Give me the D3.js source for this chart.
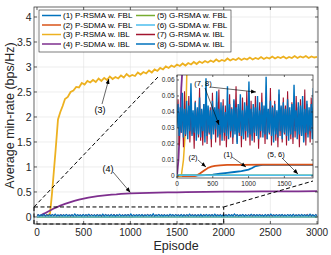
<!DOCTYPE html>
<html>
<head>
<meta charset="utf-8">
<script src="https://cdn.jsdelivr.net/npm/d3@7"></script>
<style>
body { margin: 0; background: #fff; }
svg { display: block; font-family: "Liberation Sans", Arial, sans-serif; }
</style>
</head>
<body>
<div class="graph"></div>
<script>
// ---- data ----
const legendNames = ['(1) P-RSMA w. FBL', '(2) P-SDMA w. FBL', '(3) P-RSMA w. IBL', '(4) P-SDMA w. IBL',
                     '(5) G-RSMA w. FBL', '(6) G-SDMA w. FBL', '(7) G-RSMA w. IBL', '(8) G-SDMA w. IBL'];
const colors = ['#0072BD', '#D95319', '#EDB120', '#7E2F8E', '#77AC30', '#4DBEEE', '#A2142F', '#0072BD'];

const xTicks = [0, 500, 1000, 1500, 2000, 2500, 3000];
const yTicks = [0, 0.5, 1, 1.5, 2, 2.5, 3, 3.5, 4];
const insetXTicks = [0, 500, 1000, 1500];
const insetYTicks = [0, 0.01, 0.02, 0.03, 0.04, 0.05, 0.06];

// [episode, average min-rate]
const s1 = [[0,0.0003],[200,0.0003],[400,0.0005],[500,0.0009],[600,0.0014],[700,0.0019],[800,0.0025],
  [900,0.0031],[1000,0.0040],[1050,0.0050],[1100,0.0062],[1150,0.0067],[1200,0.0069],[1500,0.0070],
  [2000,0.0070],[2500,0.0070],[3000,0.0070]];
const s2 = [[0,0],[250,0],[280,0.0004],[320,0.0015],[360,0.0028],[400,0.0040],[430,0.0050],[480,0.0058],
  [530,0.0063],[600,0.0067],[700,0.0069],[900,0.0070],[1200,0.0071],[1600,0.0071],[2000,0.0071],[3000,0.0071]];
const s3 = [[0,0],[60,0],[90,0.01],[120,0.03],[140,0.07],[160,0.45],[180,0.9],[200,1.35],[225,1.95],
  [250,2.1],[275,2.22],[300,2.36],[330,2.40],[360,2.50],[390,2.53],[420,2.60],[450,2.59],[480,2.68],
  [510,2.65],[540,2.72],[570,2.69],[600,2.74],[630,2.70],[660,2.77],[690,2.72],[720,2.78],[750,2.74],
  [780,2.81],[810,2.76],[840,2.80],[870,2.77],[900,2.83],[930,2.79],[960,2.86],[990,2.81],[1020,2.84],
  [1050,2.82],[1080,2.89],[1110,2.85],[1140,2.90],[1170,2.87],[1200,2.93],[1230,2.89],[1260,2.95],
  [1290,2.92],[1320,2.98],[1350,2.95],[1380,3.01],[1410,2.98],[1440,3.03],[1470,3.00],[1500,3.05],
  [1530,3.02],[1560,3.07],[1590,3.03],[1620,3.08],[1650,3.05],[1680,3.10],[1710,3.06],[1740,3.11],
  [1770,3.08],[1800,3.12],[1830,3.09],[1860,3.13],[1890,3.10],[1920,3.15],[1950,3.11],[1980,3.14],
  [2010,3.12],[2040,3.17],[2070,3.13],[2100,3.16],[2130,3.14],[2160,3.18],[2190,3.14],[2220,3.17],
  [2250,3.15],[2280,3.19],[2310,3.15],[2340,3.18],[2370,3.16],[2400,3.20],[2430,3.16],[2460,3.19],
  [2490,3.17],[2520,3.21],[2550,3.17],[2580,3.20],[2610,3.18],[2640,3.21],[2670,3.17],[2700,3.20],
  [2730,3.18],[2760,3.22],[2790,3.18],[2820,3.21],[2850,3.19],[2880,3.22],[2910,3.18],[2940,3.21],
  [2970,3.19],[3000,3.20]];
const s4 = [[0,0],[20,0.01],[40,0.03],[60,0.055],[80,0.07],[100,0.09],[125,0.115],[150,0.14],[175,0.165],
  [200,0.185],[250,0.225],[300,0.26],[350,0.29],[400,0.32],[450,0.345],[500,0.365],[550,0.385],[600,0.40],
  [650,0.415],[700,0.425],[750,0.435],[800,0.445],[850,0.45],[900,0.46],[950,0.465],[1000,0.47],
  [1100,0.475],[1200,0.48],[1300,0.485],[1400,0.49],[1500,0.49],[1600,0.495],[1800,0.50],[2000,0.505],
  [2200,0.505],[2400,0.51],[2600,0.51],[2800,0.51],[3000,0.515]];
const s5 = [[0,0.0004],[1000,0.0004],[2000,0.0004],[3000,0.0004]];
const s6 = [[0,0.0004],[1000,0.0004],[2000,0.0004],[3000,0.0004]];

// noisy G-* IBL curves, one value every 15 episodes
const noiseEpisodes = d3.range(0, 3001, 15);
const s7Rate = [
  0.034,0.048,0.019,0.040,0.027,0.044,0.018,0.053,0.025,0.041,
  0.029,0.050,0.021,0.043,0.026,0.039,0.017,0.047,0.028,0.042,
  0.024,0.055,0.022,0.041,0.019,0.045,0.027,0.049,0.020,0.040,
  0.026,0.043,0.018,0.052,0.028,0.042,0.021,0.046,0.025,0.054,
  0.019,0.041,0.027,0.048,0.022,0.044,0.018,0.040,0.026,0.051,
  0.024,0.043,0.020,0.047,0.028,0.056,0.021,0.042,0.025,0.045,
  0.018,0.049,0.026,0.041,0.022,0.053,0.027,0.044,0.019,0.047,
  0.025,0.040,0.021,0.050,0.028,0.043,0.017,0.046,0.024,0.052,
  0.027,0.042,0.020,0.048,0.023,0.041,0.026,0.055,0.019,0.044,
  0.028,0.047,0.022,0.040,0.018,0.051,0.025,0.043,0.021,0.049,
  0.026,0.044,0.019,0.053,0.027,0.041,0.023,0.046,0.020,0.042,
  0.024,0.050,0.028,0.043,0.018,0.048,0.025,0.040,0.022,0.054,
  0.019,0.045,0.026,0.041,0.021,0.049,0.027,0.043,0.018,0.047,
  0.025,0.052,0.020,0.042,0.028,0.046,0.022,0.055,0.024,0.041,
  0.027,0.044,0.018,0.048,0.023,0.040,0.026,0.051,0.020,0.043,
  0.022,0.047,0.027,0.041,0.019,0.053,0.025,0.044,0.021,0.049,
  0.028,0.042,0.017,0.046,0.024,0.050,0.026,0.040,0.020,0.045,
  0.025,0.054,0.022,0.043,0.018,0.047,0.027,0.041,0.023,0.052,
  0.020,0.044,0.026,0.049,0.021,0.042,0.028,0.046,0.019,0.048,
  0.024,0.041,0.027,0.053,0.022,0.045,0.018,0.043,0.025,0.050,
  0.023];
const s8Rate = [
  0.030,0.045,0.025,0.043,0.027,0.052,0.024,0.042,0.026,0.047,
  0.023,0.044,0.028,0.058,0.025,0.041,0.027,0.046,0.022,0.043,
  0.026,0.049,0.024,0.042,0.028,0.045,0.021,0.061,0.025,0.044,
  0.027,0.041,0.023,0.047,0.026,0.043,0.029,0.053,0.024,0.042,
  0.026,0.046,0.022,0.044,0.027,0.040,0.025,0.056,0.023,0.045,
  0.028,0.042,0.024,0.048,0.026,0.043,0.020,0.045,0.027,0.051,
  0.025,0.041,0.023,0.046,0.028,0.044,0.024,0.059,0.026,0.042,
  0.022,0.045,0.027,0.043,0.025,0.050,0.023,0.041,0.028,0.046,
  0.024,0.044,0.026,0.062,0.023,0.042,0.027,0.047,0.025,0.043,
  0.021,0.045,0.026,0.041,0.024,0.054,0.028,0.044,0.023,0.046,
  0.027,0.042,0.025,0.048,0.022,0.043,0.026,0.045,0.024,0.057,
  0.028,0.041,0.023,0.046,0.026,0.044,0.025,0.050,0.021,0.042,
  0.027,0.047,0.024,0.043,0.028,0.045,0.023,0.055,0.026,0.041,
  0.025,0.044,0.022,0.046,0.027,0.042,0.024,0.049,0.026,0.045,
  0.023,0.060,0.028,0.043,0.025,0.041,0.027,0.047,0.022,0.044,
  0.026,0.042,0.024,0.052,0.027,0.045,0.023,0.043,0.028,0.046,
  0.025,0.041,0.020,0.048,0.026,0.044,0.024,0.056,0.027,0.042,
  0.023,0.045,0.026,0.043,0.028,0.049,0.025,0.041,0.024,0.046,
  0.027,0.044,0.022,0.053,0.026,0.042,0.028,0.045,0.023,0.047,
  0.025,0.043,0.027,0.041,0.024,0.058,0.026,0.044,0.022,0.046,
  0.028];

const s7 = noiseEpisodes.map((e, i) => [e, s7Rate[i]]);
const s8 = noiseEpisodes.map((e, i) => [e, s8Rate[i]]);
const series = [s1, s2, s3, s4, s5, s6, s7, s8];

// ---- drawing ----
const W = 331, H = 255;
const svg = d3.select('.graph').append('svg').attr('width', W).attr('height', H);

const box = { l: 34, r: 318, t: 7, b: 224 };
const x = d3.scaleLinear().domain([-32, 3010]).range([box.l, box.r]);
const y = d3.scaleLinear().domain([-0.141, 4.2]).range([box.b, box.t]);

const ink = '#262626';

const defs = svg.append('defs');
defs.append('clipPath').attr('id', 'mainClip').append('rect')
  .attr('x', box.l).attr('y', box.t).attr('width', box.r - box.l).attr('height', box.b - box.t);
defs.append('marker').attr('id', 'arrow').attr('viewBox', '0 0 10 10').attr('refX', 10).attr('refY', 5)
  .attr('markerWidth', 5).attr('markerHeight', 5).attr('orient', 'auto-start-reverse')
  .attr('markerUnits', 'userSpaceOnUse')
  .append('path').attr('d', 'M0,1 L10,5 L0,9 z').attr('fill', '#000');

// grid
const grid = svg.append('g');
grid.selectAll('.gx').data(xTicks).enter().append('line')
  .attr('x1', d => x(d)).attr('x2', d => x(d)).attr('y1', box.t).attr('y2', box.b)
  .attr('stroke', '#e2e2e2').attr('stroke-width', 0.6);
grid.selectAll('.gy').data(yTicks).enter().append('line')
  .attr('y1', d => y(d)).attr('y2', d => y(d)).attr('x1', box.l).attr('x2', box.r)
  .attr('stroke', '#e2e2e2').attr('stroke-width', 0.6);

// main curves
const mainLine = d3.line().x(d => x(d[0])).y(d => y(d[1]));
const mainWidths = [1.3, 1.3, 1.8, 1.8, 1.3, 1.3, 1, 1.2];
svg.append('g').attr('clip-path', 'url(#mainClip)')
  .selectAll('path').data(series).enter().append('path')
  .attr('d', mainLine).attr('fill', 'none')
  .attr('stroke', (d, i) => colors[i]).attr('stroke-width', (d, i) => mainWidths[i]);

// axes box + ticks
function boxAxes(g, sx, sy, b, xt, yt, tl, fsX, fsY, fmtY, gapX, gapY) {
  g.append('rect').attr('x', b.l).attr('y', b.t).attr('width', b.r - b.l).attr('height', b.b - b.t)
    .attr('fill', 'none').attr('stroke', ink).attr('stroke-width', 0.7);
  xt.forEach(t => {
    g.append('line').attr('x1', sx(t)).attr('x2', sx(t)).attr('y1', b.b).attr('y2', b.b - tl).attr('stroke', ink).attr('stroke-width', 0.7);
    g.append('line').attr('x1', sx(t)).attr('x2', sx(t)).attr('y1', b.t).attr('y2', b.t + tl).attr('stroke', ink).attr('stroke-width', 0.7);
    g.append('text').attr('x', sx(t)).attr('y', b.b + gapX).attr('text-anchor', 'middle')
      .attr('font-size', fsX).attr('fill', ink).text(t);
  });
  yt.forEach(t => {
    g.append('line').attr('y1', sy(t)).attr('y2', sy(t)).attr('x1', b.l).attr('x2', b.l + tl).attr('stroke', ink).attr('stroke-width', 0.7);
    g.append('line').attr('y1', sy(t)).attr('y2', sy(t)).attr('x1', b.r).attr('x2', b.r - tl).attr('stroke', ink).attr('stroke-width', 0.7);
    g.append('text').attr('x', b.l - gapY).attr('y', sy(t)).attr('dy', '0.35em').attr('text-anchor', 'end')
      .attr('font-size', fsY).attr('fill', ink).text(fmtY(t));
  });
}
boxAxes(svg.append('g'), x, y, box, xTicks, yTicks, 3, 10, 10.5, d => d, 12, 2.5);

// axis titles
svg.append('text').attr('x', (box.l + box.r) / 2).attr('y', 250).attr('text-anchor', 'middle')
  .attr('font-size', 12.5).attr('fill', ink).text('Episode');
svg.append('text').attr('transform', `translate(13.5,${(box.t + box.b) / 2}) rotate(-90)`)
  .attr('text-anchor', 'middle').attr('font-size', 12.5).attr('fill', ink).text('Average min-rate (bps/Hz)');

// zoom region and connectors
const inset = { l: 177, r: 313, t: 75, b: 178 };
const dashed = svg.append('g').attr('fill', 'none').attr('stroke', '#000').attr('stroke-width', 1)
  .attr('stroke-dasharray', '4,2.5');
dashed.append('rect').attr('x', x(-32)).attr('y', y(0.2)).attr('width', x(2000) - x(-32))
  .attr('height', box.b - y(0.2));
dashed.append('line').attr('x1', x(-32)).attr('y1', y(0.2)).attr('x2', 158).attr('y2', 77);
dashed.append('line').attr('x1', x(2000)).attr('y1', y(0.2)).attr('x2', inset.r).attr('y2', inset.b + 3);

// main annotations
function note(g, label, tx, ty, ax1, ay1, ax2, ay2, fs) {
  g.append('text').attr('x', tx).attr('y', ty).attr('dy', '0.35em').attr('text-anchor', 'middle')
    .attr('font-size', fs).attr('fill', '#000').text(label);
  g.append('line').attr('x1', ax1).attr('y1', ay1).attr('x2', ax2).attr('y2', ay2)
    .attr('stroke', '#000').attr('stroke-width', 0.6).attr('marker-end', 'url(#arrow)');
}
const ann = svg.append('g');
note(ann, '(3)', 100, 110, 102, 104, x(770), y(2.76), 9);
note(ann, '(4)', 108, 168.5, 113, 172, x(1000), y(0.49), 9);

// ---- inset ----
const ix = d3.scaleLinear().domain([0, 1900]).range([inset.l, inset.r]);
const iy = d3.scaleLinear().domain([-0.00125, 0.0631]).range([inset.b, inset.t]);
defs.append('clipPath').attr('id', 'insetClip').append('rect')
  .attr('x', inset.l).attr('y', inset.t).attr('width', inset.r - inset.l).attr('height', inset.b - inset.t);

const ig = svg.append('g');
ig.append('rect').attr('x', inset.l).attr('y', inset.t).attr('width', inset.r - inset.l)
  .attr('height', inset.b - inset.t).attr('fill', '#fff');
const insetLine = d3.line().x(d => ix(d[0])).y(d => iy(d[1]));
const insetWidths = [1.8, 1.8, 1.5, 1.8, 1.5, 1.5, 1.1, 1.4];
ig.append('g').attr('clip-path', 'url(#insetClip)')
  .selectAll('path').data(series).enter().append('path')
  .attr('d', insetLine).attr('fill', 'none')
  .attr('stroke', (d, i) => colors[i]).attr('stroke-width', (d, i) => insetWidths[i]);
boxAxes(ig, ix, iy, inset, insetXTicks, insetYTicks, 2, 6.5, 6.5, d => d, 8, 2.5);

note(ig, '(7, 8)', 203, 83, 205, 88, 219, 125, 7.5);
note(ig, '', 0, 0, 210, 87, 256, 92, 7.5);
note(ig, '(2)', 193, 157, 198, 160, 206, 167, 7.5);
note(ig, '(1)', 228, 154, 232, 157, 246, 167, 7.5);
note(ig, '(5, 6)', 276, 154, 282, 158, 298, 174, 7.5);

// ---- legend ----
const lg = svg.append('g');
lg.append('rect').attr('x', 39).attr('y', 10).attr('width', 192).attr('height', 42)
  .attr('fill', '#fff').attr('stroke', ink).attr('stroke-width', 0.6);
const rowY = [15.5, 25, 34.5, 44];
legendNames.forEach((name, i) => {
  const col = Math.floor(i / 4), row = i % 4;
  const lx = col === 0 ? 42 : 136;
  lg.append('line').attr('x1', lx).attr('x2', lx + 19).attr('y1', rowY[row]).attr('y2', rowY[row])
    .attr('stroke', colors[i]).attr('stroke-width', 1.5);
  lg.append('text').attr('x', lx + 21).attr('y', rowY[row]).attr('dy', '0.35em')
    .attr('font-size', 8).attr('fill', '#000').text(name);
});
</script>
</body>
</html>
